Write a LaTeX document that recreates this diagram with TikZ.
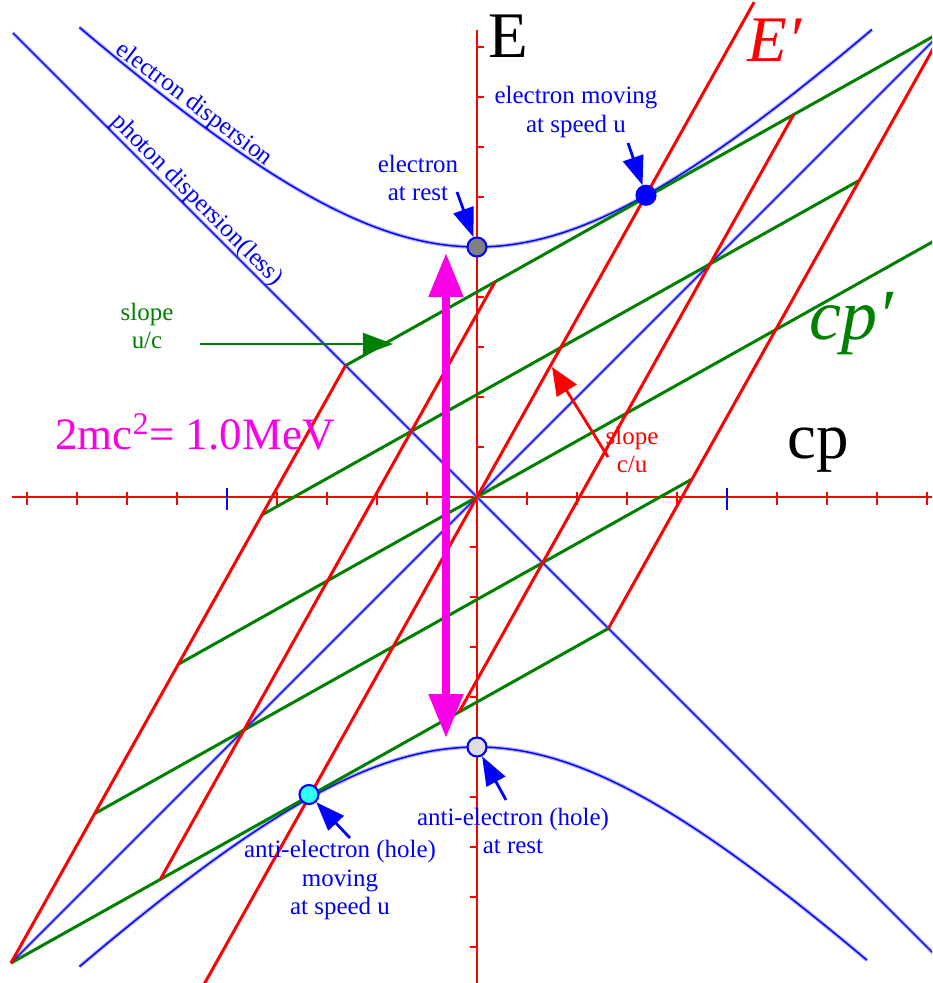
\documentclass[tikz,border=0pt]{standalone}
\usepackage{fontspec}
\setmainfont{Liberation Serif}
\usetikzlibrary{arrows.meta}
\definecolor{gapmag}{RGB}{250,0,230}
\definecolor{holecyan}{RGB}{50,255,245}
\definecolor{framegreen}{RGB}{0,128,0}

\begin{document}
\begin{tikzpicture}[
    axis/.style={red, line width=1.1pt},
    disp/.style={blue, line width=0.8pt, preaction={draw, blue!30, line width=2.2pt}},
    frameline/.style={line width=1.7pt},
    primed/.style={cm={1.207,0.676,0.676,1.207,(0,0)}},
    lbl/.style={font=\fontsize{14.2}{16}\selectfont, align=center, inner sep=0pt},
    big/.style={font=\fontsize{37}{40}\selectfont, inner sep=0pt, anchor=base},
    dot/.style={circle, draw=blue, line width=1.2pt, minimum size=0.38cm, inner sep=0pt},
    pointer/.style={-{Triangle[length=0.58cm,width=0.42cm]}, line width=1.6pt, blue}
  ]
  \useasboundingbox (-9.54,-9.72) rectangle (9.1,9.94);
  \clip (-9.54,-9.72) rectangle (9.1,9.94);

  % axes and ticks
  \draw[axis] (-9.3,0) -- (9.1,0);
  \draw[axis] (0,-9.72) -- (0,9.34);
  \foreach \i in {-9,...,-6,-4,-3,-2,-1,1,2,3,4,6,7,8,9}
    \draw[axis] (\i,0.1) -- (\i,-0.16);
  \foreach \i in {1,...,9} {
    \draw[axis] (0,\i) -- (0.14,\i);
    \draw[axis] (0,-\i) -- (-0.14,-\i);
  }
  \draw[blue, line width=1.6pt] (-5,0.18) -- (-5,-0.26);
  \draw[blue, line width=1.6pt] (5,0.18) -- (5,-0.26);

  % dispersion curves
  \draw[disp] plot[domain=-7.95:7.9, samples=90, smooth] (\x,{sqrt(25+\x*\x)});
  \draw[disp] plot[domain=-7.95:7.8, samples=90, smooth] (\x,{-sqrt(25+\x*\x)});
  \draw[disp] (-9.28,9.28) -- (9.2,-9.2);
  \draw[disp] (-9.3,-9.3) -- (9.2,9.2);

  \node[blue, lbl, rotate=-37, anchor=south] (elname) at (-5.8,7.66) {electron dispersion};
  \node[blue, lbl, rotate=-45, anchor=south] (phname) at (-5.77,5.77) {photon dispersion(less)};

  % moving frame: lines of constant E' and cp'
  \begin{scope}[primed, framegreen, frameline]
    \foreach \e in {-4.95,-2.475,0,2.475,4.95}
      \draw (-4.95,\e) -- (4.95,\e);
    \draw (4.95,0) -- (7.6,0);
  \end{scope}
  \begin{scope}[primed, red, frameline]
    \foreach \c in {-4.95,-2.475,2.475,4.95}
      \draw (\c,-4.95) -- (\c,4.95);
    \draw (0,-8.1) -- (0,8.2);
  \end{scope}

  % pair gap
  \coordinate (gaptop) at (-0.62,4.88);
  \coordinate (gapbot) at (-0.62,-4.82);
  \draw[{Triangle[length=0.88cm,width=0.66cm]}-{Triangle[length=0.88cm,width=0.66cm]},
        gapmag, line width=0.16cm] (gapbot) -- (gaptop);

  % states
  \node[dot, fill=gray] (rest) at (0,5) {};
  \node[dot, fill=blue] (moving) at (3.38,6.035) {};
  \node[dot, fill=holecyan] (amoving) at (-3.36,-5.95) {};
  \node[dot, fill=gray!25] (arest) at (0,-5) {};

  \node[lbl, blue] (restlbl) at (-1.18,6.38) {electron\\at rest};
  \node[lbl, blue] (movlbl) at (1.98,7.7) {electron moving\\at speed u};
  \node[lbl, blue] (amovlbl) at (-2.74,-7.66) {anti-electron (hole)\\moving\\at speed u};
  \node[lbl, blue] (arestlbl) at (0.72,-6.68) {anti-electron (hole)\\at rest};

  \coordinate (p1) at (-0.4,6.1);
  \coordinate (p2) at (3.02,7.08);
  \coordinate (p3) at (-2.54,-6.82);
  \coordinate (p4) at (0.58,-6.06);
  \draw[pointer] (p1) -- (rest);
  \draw[pointer] (p2) -- (moving);
  \draw[pointer] (p3) -- (amoving);
  \draw[pointer] (p4) -- (arest);

  % slopes
  \node[lbl, framegreen] (uclbl) at (-6.6,3.42) {slope\\u/c};
  \coordinate (uctail) at (-5.54,3.06);
  \coordinate (uchead) at (-1.68,3.06);
  \draw[-{Triangle[length=0.6cm,width=0.44cm]}, framegreen, line width=1.1pt] (uctail) -- (uchead);

  \node[lbl, red] (culbl) at (3.1,0.94) {slope\\c/u};
  \coordinate (cutail) at (2.62,0.8);
  \coordinate (cuhead) at (1.5,2.6);
  \draw[-{Triangle[length=0.56cm,width=0.46cm]}, red, line width=1.6pt] (cutail) -- (cuhead);

  % axis names
  \node[big] (Elbl) at (0.62,8.78) {E};
  \node[big, red] (Eplbl) at (5.96,8.7) {\textit{E′}};
  \node[big] (cplbl) at (6.82,0.78) {cp};
  \node[big, framegreen, font=\fontsize{41}{44}\selectfont] (cpplbl) at (7.5,3.15) {\textit{cp′}};
  \node[gapmag, font=\fontsize{25.6}{28}\selectfont, inner sep=0pt, anchor=base west]
       (gaplbl) at (-8.44,0.94) {2mc\textsuperscript{2}= 1.0MeV};
\end{tikzpicture}
\end{document}
